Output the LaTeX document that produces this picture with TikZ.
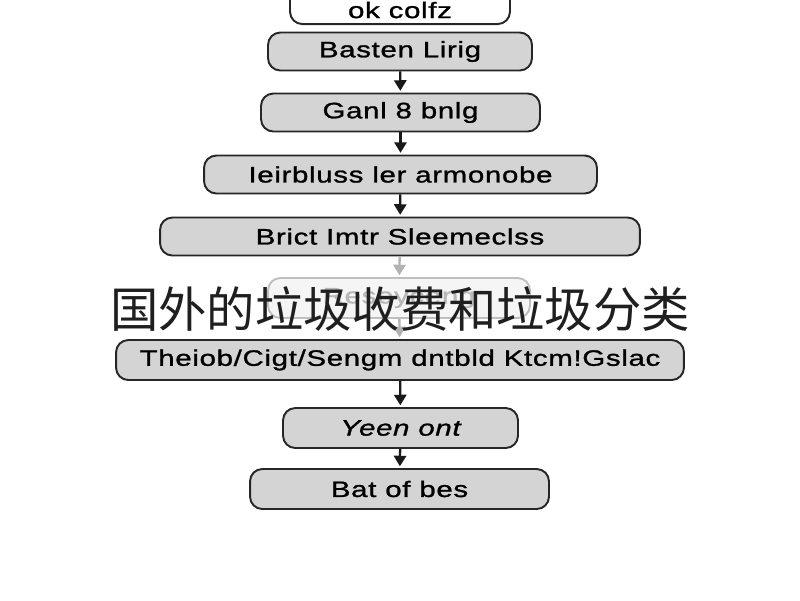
\documentclass[tikz,border=0pt]{standalone}
\usepackage{fontspec}
\setmainfont{Liberation Sans}
\newfontfamily\boxfont[FakeStretch=1.32,LetterSpace=3,FakeBold=1.2]{Liberation Sans}
\newfontfamily\cjk{Noto Sans CJK SC}
\usepackage{tikz}
\usetikzlibrary{arrows.meta}

\begin{document}
\begin{tikzpicture}[x=0.02cm,y=-0.02cm,
		stage/.style={draw=black!85,line width=1.1pt,rounded corners=7pt,fill=black!17,
			inner sep=0pt,minimum height=0.76cm,font=\boxfont\fontsize{12.7}{15}\selectfont},
		faded/.style={stage,draw=black!25,fill=black!4,text=black!28},
		flow/.style={-{Triangle[length=6pt,width=7pt]},line width=1.3pt,black!90,shorten >=1pt},
		fadedflow/.style={flow,black!30}]
		\useasboundingbox (0,0) rectangle (800,600);
		% steps
		\node[stage,fill=white,minimum width=4.4cm,text height=0.88cm,text depth=0.12cm,anchor=south] (top) at (400,25) {ok colfz};
		\node[stage,minimum width=5.28cm] (basten) at (400,51.5) {Basten Lirig};
		\node[stage,minimum width=5.58cm] (ganl) at (400.5,112.5) {Ganl 8 bnlg};
		\node[stage,minimum width=7.86cm] (leirb) at (400.5,174.5) {Ieirbluss ler armonobe};
		\node[stage,minimum width=9.6cm] (brict) at (400,236.5) {Brict Imtr Sleemeclss};
		\node[faded,minimum width=5.24cm,minimum height=0.8cm] (reso) at (399,298) {Resoyceng};
		\node[stage,minimum width=11.36cm,minimum height=0.8cm] (theiob) at (400,360) {Theiob/Cigt/Sengm dntbld Ktcm!Gslac};
		\node[stage,minimum width=4.7cm,minimum height=0.8cm] (yeen) at (400.5,428) {\itshape Yeen ont};
		\node[stage,minimum width=5.98cm,minimum height=0.8cm] (bat) at (399.5,489) {Bat of bes};
		% arrows
		\draw[flow] (basten) -- (ganl);
		\draw[flow] (ganl) -- (leirb);
		\draw[flow] (leirb) -- (brict);
		\draw[fadedflow] (brict) -- (reso);
		\draw[fadedflow] (reso) -- (theiob);
		\draw[flow] (theiob) -- (yeen);
		\draw[flow] (yeen) -- (bat);
		% title
		\node[text=black!88,font=\cjk\fontsize{27.5}{30}\selectfont] (title) at (400,309) {国外的垃圾收费和垃圾分类};
\end{tikzpicture}
\end{document}
